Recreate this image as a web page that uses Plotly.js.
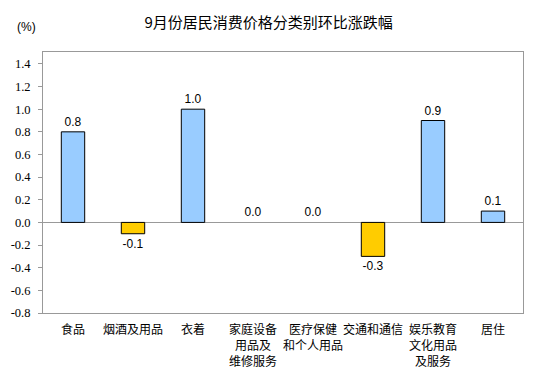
<!DOCTYPE html>
<html>
<head>
<meta charset="utf-8">
<script src="https://cdn.plot.ly/plotly-3.0.1.min.js"></script>
<style>html,body{margin:0;padding:0;background:#fff;}#chart{width:535px;height:371px;}</style>
</head>
<body>
<div id="chart"></div>
<script>
const categories = ["食品", "烟酒及用品", "衣着", "家庭设备<br>用品及<br>维修服务", "医疗保健<br>和个人用品", "交通和通信", "娱乐教育<br>文化用品<br>及服务", "居住"];
const values = [0.8, -0.1, 1.0, 0.0, 0.0, -0.3, 0.9, 0.1];
const valueLabels = ["0.8", "-0.1", "1.0", "0.0", "0.0", "-0.3", "0.9", "0.1"];
const yTickVals = [-0.8, -0.6, -0.4, -0.2, 0.0, 0.2, 0.4, 0.6, 0.8, 1.0, 1.2, 1.4];
const yTickText = ["-0.8", "-0.6", "-0.4", "-0.2", "0.0", "0.2", "0.4", "0.6", "0.8", "1.0", "1.2", "1.4"];

const colors = values.map(v => v < 0 ? "#FFCC00" : "#99CCFF");
const lineWidths = values.map(v => v === 0 ? 0 : 1);

const trace = {
  type: "bar",
  x: categories,
  y: values,
  text: valueLabels,
  textposition: "outside",
  cliponaxis: false,
  textfont: {family: "Liberation Sans, Arial, sans-serif", size: 12, color: "#000"},
  marker: {color: colors, line: {color: "#000", width: lineWidths}},
  hoverinfo: "none"
};

const layout = {
  width: 535,
  height: 371,
  margin: {l: 43, r: 12, t: 52, b: 58},
  paper_bgcolor: "#fff",
  plot_bgcolor: "#fff",
  bargap: 0.61,
  showlegend: false,
  title: {
    text: "9月份居民消费价格分类别环比涨跌幅",
    font: {family: "Noto Sans CJK SC, sans-serif", size: 15, color: "#000"},
    x: 0.502, xanchor: "center",
    y: 0.938, yanchor: "middle"
  },
  xaxis: {
    type: "category",
    showline: true, mirror: true, linecolor: "#999", linewidth: 1,
    ticks: "", showgrid: false,
    tickfont: {family: "Noto Sans CJK SC, sans-serif", size: 12, color: "#000"},
    tickangle: 0,
    ticklabelstandoff: 6,
    automargin: false
  },
  yaxis: {
    range: [-0.8, 1.505],
    tickvals: yTickVals,
    ticktext: yTickText,
    showline: true, mirror: true, linecolor: "#999", linewidth: 1,
    ticks: "outside", ticklen: 4, tickcolor: "#999",
    showgrid: false,
    zeroline: true, zerolinecolor: "#999", zerolinewidth: 1,
    tickfont: {family: "Liberation Serif, Times New Roman, serif", size: 12.5, color: "#000"},
    ticklabelstandoff: 5,
    automargin: false
  },
  annotations: [{
    text: "(%)", xref: "paper", yref: "paper",
    x: (26 - 43) / 480, y: (313 - 27) / 261,
    xanchor: "center", yanchor: "middle", showarrow: false,
    font: {family: "Liberation Sans, Arial, sans-serif", size: 12, color: "#000"}
  }]
};

Plotly.newPlot("chart", [trace], layout, {displayModeBar: false, staticPlot: true});
</script>
</body>
</html>
